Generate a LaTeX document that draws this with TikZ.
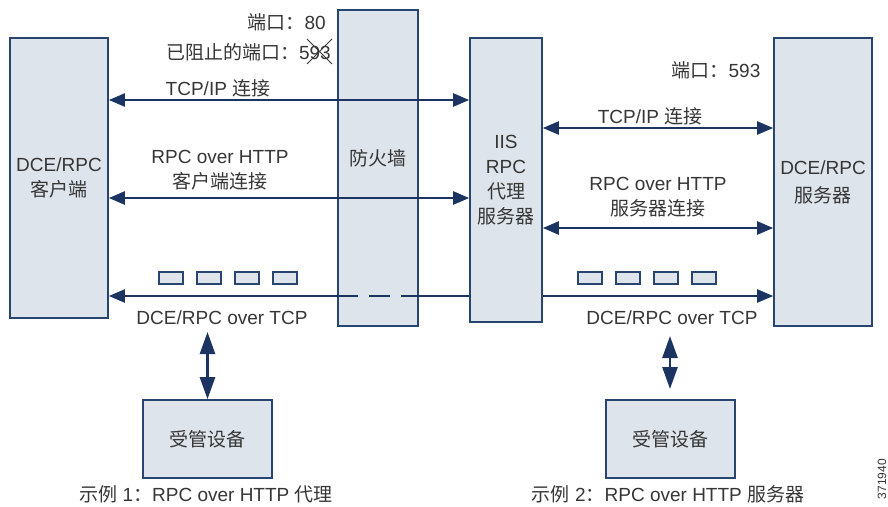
\documentclass[tikz,border=0pt]{standalone}
\usepackage{fontspec}
\setmainfont{Liberation Sans}
\newfontfamily\cjk{Noto Sans CJK SC}
\usepackage{xcolor}
\usetikzlibrary{arrows.meta}
\usetikzlibrary{positioning}
\definecolor{boxfill}{HTML}{DEE4EB}
\definecolor{boxline}{HTML}{2A4470}
\definecolor{arrowc}{HTML}{1B3461}
\definecolor{txt}{HTML}{363636}

\begin{document}
\begin{tikzpicture}[x=1pt,y=-1pt,
  every node/.style={font=\fontsize{19}{25}\selectfont,text=txt,align=center,inner sep=0pt},
  box/.style={draw=boxline,fill=boxfill,line width=1.6pt},
  pkt/.style={box,line width=1.4pt,minimum width=24pt,minimum height=12pt},
  conn/.style={draw=arrowc,line width=2.2pt,{Triangle[length=16pt,width=13pt]}-{Triangle[length=16pt,width=13pt]}},
  tipl/.style={draw=arrowc,line width=2.2pt,{Triangle[length=16pt,width=13pt]}-},
  tipr/.style={draw=arrowc,line width=2.2pt,-{Triangle[length=16pt,width=13pt]}},
  plain/.style={draw=arrowc,line width=2.2pt},
  devconn/.style={draw=arrowc,line width=2.6pt,{Triangle[length=22pt,width=15pt]}-{Triangle[length=22pt,width=15pt]}}
]
\useasboundingbox (0,0) rectangle (888,506);

% main boxes
\node[box,minimum width=98pt,minimum height=280pt] (client) at (59,178) {DCE/RPC\\{\cjk 客户端}};
\node[box,minimum width=80pt,minimum height=316pt] (fw) at (378,168) {};
\node (fwtext) at (378,158) {\cjk 防火墙};
\node[box,minimum width=72pt,minimum height=284pt] (iis) at (506,180) {IIS\\RPC\\{\cjk 代理}\\{\cjk 服务器}};
\node[box,minimum width=98pt,minimum height=288pt] (server) at (823,182) {DCE/RPC\\[3pt]{\cjk 服务器}};

% ports
\node[anchor=east] (port80) at (326,22) {{\cjk 端口：}80};
\node[anchor=east] (blocked) at (331,52) {{\cjk 已阻止的端口：}593};
\draw[txt,line width=0.8pt] ([xshift=-24pt,yshift=-12pt]blocked.east) -- ([xshift=1pt,yshift=13pt]blocked.east);
\draw[txt,line width=0.8pt] ([xshift=-24pt,yshift=13pt]blocked.east) -- ([xshift=1pt,yshift=-12pt]blocked.east);
\node (port593) at (716,70) {{\cjk 端口：}593};

% client side connections
\coordinate (l1) at (0,100);
\coordinate (l2) at (0,198);
\coordinate (l3) at (0,296);
\draw[conn] (client.east |- l1) -- (iis.west |- l1);
\node (tcpl) at (218,88) {TCP/IP {\cjk 连接}};
\draw[conn] (client.east |- l2) -- (iis.west |- l2);
\node (httpl) at (220,170) {RPC over HTTP\\{\cjk 客户端连接}};

% server side connections
\coordinate (r1) at (0,128);
\coordinate (r2) at (0,228);
\draw[conn] (iis.east |- r1) -- (server.west |- r1);
\node (tcpr) at (650,116) {TCP/IP {\cjk 连接}};
\draw[conn] (iis.east |- r2) -- (server.west |- r2);
\node (httpr) at (658,197) {RPC over HTTP\\{\cjk 服务器连接}};

% DCE/RPC over TCP
\draw[tipl] (client.east |- l3) -- (fw.west |- l3);
\draw[plain,dash pattern=on 21pt off 11pt] (fw.west |- l3) -- (fw.east |- l3);
\draw[plain] (fw.east |- l3) -- (iis.west |- l3);
\draw[tipr] (iis.east |- l3) -- (server.west |- l3);
\foreach \i in {0,...,3} {
  \node[pkt] (pl\i) at (171+38*\i,278) {};
  \node[pkt] (pr\i) at (590+38*\i,278) {};
}
\node (tcpdl) at (222,318) {DCE/RPC over TCP};
\node (tcpdr) at (672,318) {DCE/RPC over TCP};

% managed devices
\node[box,minimum width=129pt,minimum height=78pt] (dev1) at (207.5,439) {\cjk 受管设备};
\node[box,minimum width=129pt,minimum height=78pt] (dev2) at (670.5,439) {\cjk 受管设备};
\coordinate (d1) at (207,332);
\coordinate (d2) at (670,336);
\coordinate (d2b) at (670,389);
\draw[devconn] (dev1.north) -- (dev1.north |- d1);
\draw[devconn] (d2b) -- (d2);

% captions
\node (cap1) at (206,494) {{\cjk 示例} 1{\cjk ：}RPC over HTTP {\cjk 代理}};
\node (cap2) at (668,494) {{\cjk 示例} 2{\cjk ：}RPC over HTTP {\cjk 服务器}};
\node[rotate=90,font=\fontsize{12}{12}\selectfont] (fignum) at (882,479) {371940};
\end{tikzpicture}
\end{document}
